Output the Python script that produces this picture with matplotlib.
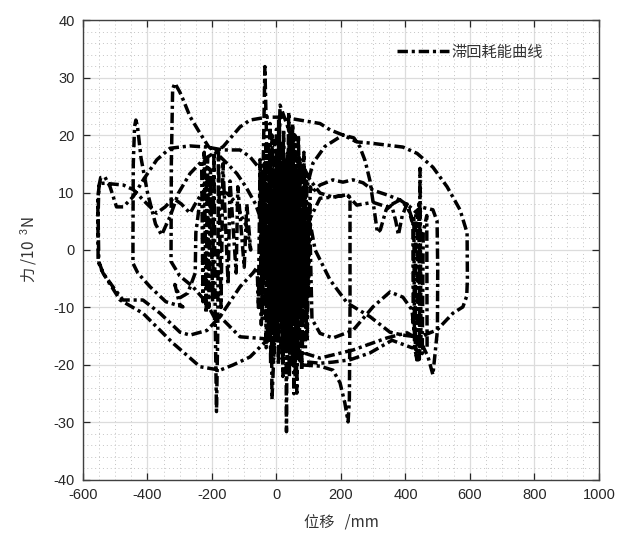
import numpy as np
import matplotlib
matplotlib.use("Agg")
import matplotlib.pyplot as plt
from matplotlib.ticker import MultipleLocator

plt.rcParams['font.family'] = ['Liberation Sans', 'Noto Sans CJK SC', 'DejaVu Sans']
plt.rcParams['axes.unicode_minus'] = False
plt.rcParams['mathtext.fontset'] = 'custom'
plt.rcParams['mathtext.rm'] = 'Liberation Sans'

# hysteresis path: (displacement mm, force 10^3 N), in drawing order
center_a = [(0, -2), (8, 12), (-6, -10), (18, 15), (-12, -13), (26, 10), (-22, -9), (35, 16),
            (-28, -15), (46, 11), (-5, -16)]
peak25 = [(11, 25.2), (25, 23), (42, 20.3), (73, 15.7), (104, 12.2), (135, 9.9), (175, 9.2),
          (219, 9.6), (249, 7.8), (299, 8.3), (342, 7.5), (383, 8.7), (410, 7.2)]
right_a = [(423, 5), (424, -13), (430, -15), (432, 6), (438, 7), (440, -18), (443, -19),
           (445, 14.2), (448, -16), (440, -19.1)]
arc_m7 = [(435, -19.1), (429, -15.1), (420, -10.4), (392, -8.2), (352, -7.3), (299, -9.9),
          (237, -14), (175, -15.3), (135, -14.5)]
center_b = [(110, -12), (102, 8), (95, -16), (88, 14), (80, -18), (72, 16), (63, -24.9), (58, 12),
            (52, -20), (47, 19), (40, -22), (36, 17), (31, -31.6), (27, 14), (20, -22), (14, 18),
            (6, -20), (0, 21), (-8, -18), (-14, -26), (-19, 16), (-25, -15), (-31, 20), (-36, 31.9),
            (-42, 12), (-47, -13), (-51, 15.7), (-56, -10), (-60, -3)]
low_left = [(-73, -4), (-113, -6.4), (-175, -11.6), (-216, -14), (-268, -14.8), (-299, -14.3),
            (-361, -11), (-414, -8.7), (-476, -8.7), (-507, -6.4), (-538, -4), (-551, -2), (-553, 6),
            (-551, 11), (-545, 12.6), (-532, 12.7)]
dome18 = [(-516, 11), (-496, 7.5), (-475, 7.5), (-444, 9.3), (-413, 12.2), (-371, 15.7),
          (-330, 17.7), (-268, 18.1), (-216, 17.9), (-165, 17.4), (-113, 17.4), (-82, 16.2), (-50, 14)]
center_c = [(-44, -12), (-38, 15), (-32, -17), (-26, 18), (-20, -12), (-14, 20), (-9, -19), (-3, 14),
            (3, -16), (9, 22), (15, -14), (21, 19), (27, -18), (33, 13), (39, -15), (45, 16),
            (51, -13), (57, 20), (63, -16), (69, 13), (75, -12), (81, 15), (87, -10), (93, 12),
            (99, -8), (105, 11), (110, 10)]
wiggle = [(135, 11.3), (175, 12.2), (206, 11.8), (237, 12.2), (268, 11.7), (299, 10.4), (342, 9.6),
          (383, 8.7), (414, 7.5), (436, 6.4), (445, 7.5), (485, 7), (498, 5), (500, -3.5), (499, -14),
          (485, -21.7), (470, -18.6), (445, -15.7), (405, -14.4), (342, -15.3), (237, -17.4),
          (135, -18.8), (90, -18)]
center_d = [(84, 9), (78, -21), (72, 11), (66, -18), (60, 14), (54, -25), (48, 10), (42, -20),
            (36, 12), (30, -17), (24, 13), (18, -19), (12, 15), (6, -12), (0, 17), (-6, -15),
            (-12, 12), (-18, -20), (-24, 10), (-30, -12), (-36, 14), (-42, -9), (-48, 9), (-15, -12),
            (0, -14.5)]
low_outer = [(-30, -15.7), (-82, -18.6), (-135, -20), (-175, -20.9), (-237, -20.3), (-321, -16.2),
             (-414, -11), (-485, -8.7), (-538, -4), (-553, -2), (-554, 9), (-549, 11.6), (-532, 11.6)]
line_b = [(-475, 11.3), (-444, 10.5), (-410, 8.5), (-372, 6.4), (-345, 7.5), (-320, 9), (-295, 8),
          (-268, 6.4), (-245, 8.7), (-216, 11), (-205, 13)]
mid_left = [(-210, -10), (-214, 16), (-218, -11), (-224, 17), (-228, -9), (-232, 15), (-205, 14),
            (-198, -9), (-194, 17), (-190, -12), (-186, -28.1), (-182, -14), (-180, 17), (-172, -10),
            (-166, 15), (-150, -6), (-144, 12), (-125, -4), (-120, 11), (-100, -3), (-92, 8),
            (-80, 0)]
arc10 = [(-92, 4), (-113, 6.4), (-123, 8.1), (-154, 9.9), (-196, 10.1), (-237, 8.7), (-250, 3),
         (-252, -4), (-275, -7.5), (-299, -8.3), (-315, -6), (-300, -9.5), (-290, -9.9)]
outer = [(-343, -9), (-392, -6.4), (-430, -4), (-445, -2.3), (-445, 2), (-444, 15), (-440, 21.5),
         (-436, 22.6), (-431, 21.5), (-420, 16), (-400, 10), (-375, 4.5), (-356, 2.6), (-345, 4),
         (-330, 5.8), (-304, 9.9), (-268, 13.3), (-227, 15.7), (-196, 16.8), (-165, 18),
         (-113, 21.4), (-82, 22.6), (-30, 23.1), (20, 23.1), (73, 22.6), (135, 22), (166, 20.9),
         (206, 20), (249, 18.8), (290, 18.6), (392, 17.9), (436, 16.8), (485, 14.4), (529, 11),
         (569, 7), (591, 3), (592, -5), (590, -8), (578, -9.9), (547, -11), (498, -13.9),
         (445, -15.1), (420, -15), (392, -14.8), (352, -14.3), (290, -11.6), (219, -9.2),
         (166, -5.2), (120, 0)]
center_e = [(100, 6), (92, -14), (85, 17), (78, -9), (68, 20), (60, -14), (50, 22), (44, -12),
            (38, 24), (30, -10), (22, 21), (15, -8), (8, 23), (0, -11), (-6, 19), (-14, -8),
            (-20, 22), (-26, -5), (-33, 18), (-40, -6), (-46, 12), (-30, -2), (10, 0), (60, 5),
            (90, 10), (113, 15.1), (150, 18), (206, 20)]
drop_mid = [(240, 19.5), (258, 18), (275, 15.5), (290, 12), (303, 7), (313, 3), (322, 3.5),
            (340, 7), (357, 7.8), (370, 5), (378, 2.6), (390, 6), (405, 8), (420, 5)]
right_b = [(426, 6), (428, -17), (436, -19), (441, 8), (446, -17), (452, -18), (455, 3), (466, 6),
           (467, -17), (450, -17), (420, -17), (358, -15.7), (290, -17.9), (228, -19.1),
           (175, -19.5), (135, -19.7), (100, -19.5), (73, -19.7)]
center_f = [(66, 8), (58, -22), (50, 6), (44, -18), (38, 9), (30, -14), (60, -18), (80, -20)]
spike_225 = [(135, -20.2), (175, -20.9), (197, -23.1), (212, -26.6), (222, -29.9), (226, -26),
             (228, -10), (228, 9.2), (219, 9.6), (175, 9.2), (135, 9), (100, 5)]
peak29 = [(40, -10), (11, -16.9), (-42, -15.4), (-113, -15.1), (-175, -11.6), (-190, -12),
          (-219, -9), (-259, -6.4), (-300, -4.5), (-327, -2), (-326, 15), (-322, 28), (-315, 29),
          (-300, 27.5), (-289, 26.1), (-268, 23.2), (-237, 20.3), (-211, 18), (-185, 16.8),
          (-154, 15.1), (-123, 13.3), (-95, 11), (-65, 8), (-40, 4), (0, 2)]

branches = [center_a, peak25, right_a, arc_m7, center_b, low_left, dome18, center_c, wiggle,
            center_d, low_outer, line_b, mid_left, arc10, outer, center_e, drop_mid, right_b,
            center_f, spike_225, peak29]
path = np.array([p for b in branches for p in b], dtype=float)
disp = path[:, 0]
force = path[:, 1]

fig = plt.figure(figsize=(6.22, 5.41), dpi=100)
ax = fig.add_axes([0.1334, 0.1128, 0.8296, 0.8502])

dash_dot = (0, (3.0, 1.1, 0.9, 1.1))
ax.plot(disp, force, color='black', lw=2.5, linestyle=dash_dot, label='滞回耗能曲线')

ax.set_xlim(-600, 1000)
ax.set_ylim(-40, 40)
ax.xaxis.set_major_locator(MultipleLocator(200))
ax.yaxis.set_major_locator(MultipleLocator(10))
ax.xaxis.set_minor_locator(MultipleLocator(50))
ax.yaxis.set_minor_locator(MultipleLocator(2))
ax.grid(which='major', color='#dcdcdc', lw=0.9, ls='-')
ax.grid(which='minor', color='#c4c4c4', lw=0.7, ls=(0, (1, 3)))
ax.set_axisbelow(True)
ax.tick_params(which='major', direction='in', length=5, width=0.9, top=True, right=True,
               labelsize=10.5, colors='#262626', pad=6)
ax.tick_params(which='minor', length=0)
for s in ax.spines.values():
    s.set_color('#404040')
    s.set_linewidth(1.0)

ax.set_xlabel('位移   /mm', fontsize=11, color='#333333',
              family=['Noto Sans CJK SC', 'Liberation Sans'], labelpad=8)
ax.set_ylabel('力 /10  $^{3}$N', fontsize=11, color='#333333',
              family=['Noto Sans CJK SC', 'Liberation Sans'], labelpad=10)

leg = ax.legend(loc='center left', bbox_to_anchor=(0.608, 0.930), frameon=False,
                handlelength=3.4, handletextpad=0.15, borderpad=0, borderaxespad=0,
                prop={'family': ['Noto Sans CJK SC'], 'size': 11})
for t in leg.get_texts():
    t.set_color('#333333')

fig.savefig('out.png', dpi=100)
